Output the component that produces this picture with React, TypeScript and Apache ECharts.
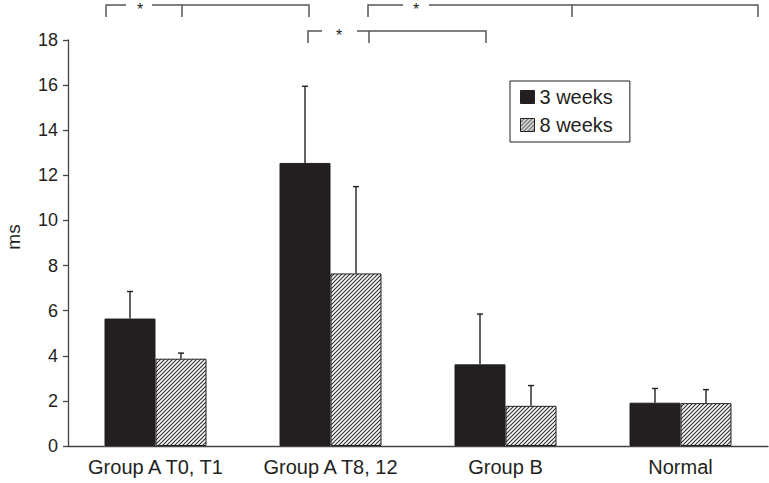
import React, { useEffect, useRef } from 'react';
import * as echarts from 'echarts';

// groups along the x axis
const groups = ['Group A T0, T1', 'Group A T8, 12', 'Group B', 'Normal'];
const seriesNames = ['3 weeks', '8 weeks'];

// mean values (ms) and upper error (SD)
const weeks3 = [5.65, 12.55, 3.62, 1.92];
const weeks3Sd = [1.2, 3.4, 2.23, 0.63];
const weeks8 = [3.87, 7.65, 1.78, 1.9];
const weeks8Sd = [0.25, 3.85, 0.9, 0.6];

const yTicks = { min: 0, max: 18, interval: 2 };

// significance brackets, pixel positions of the annotation layer
const brackets = [
    { left: 106, mid: 182, right: 309, top: 5, drop: 12, gapFrom: 126, gapTo: 152, star: 140 },
    { left: 308, mid: 369, right: 486, top: 31, drop: 12, gapFrom: 322, gapTo: 357, star: 339 },
    { left: 368, mid: 572, right: 758, top: 5, drop: 12, gapFrom: 403, gapTo: 429, star: 416 },
];

const INK = '#231f20';
const FONT = "'Liberation Sans', Arial, Helvetica, sans-serif";
const BAR_W = 51;

const makeHatch = () => {
    const c = document.createElement('canvas');
    c.width = 4;
    c.height = 4;
    const ctx = c.getContext('2d')!;
    ctx.fillStyle = '#fff';
    ctx.fillRect(0, 0, 4, 4);
    ctx.strokeStyle = '#333';
    ctx.lineWidth = 1.2;
    ctx.beginPath();
    ctx.moveTo(-1, 5);
    ctx.lineTo(5, -1);
    ctx.moveTo(-1, 1);
    ctx.lineTo(1, -1);
    ctx.moveTo(3, 5);
    ctx.lineTo(5, 3);
    ctx.stroke();
    return c;
};

const errorSeries = (name: string, means: number[], sds: number[], offset: number) => ({
    name,
    type: 'custom',
    z: 5,
    data: means.map((m, i) => [i, m, m + sds[i]]),
    renderItem: (params: any, api: any) => {
        const low = api.coord([api.value(0), api.value(1)]);
        const high = api.coord([api.value(0), api.value(2)]);
        const x = low[0] + offset;
        const style = { stroke: INK, lineWidth: 1.4 };
        return {
            type: 'group',
            children: [
                { type: 'line', shape: { x1: x, y1: low[1], x2: x, y2: high[1] }, style },
                { type: 'line', shape: { x1: x - 3, y1: high[1], x2: x + 3, y2: high[1] }, style },
            ],
        };
    },
});

const App: React.FC = () => {
    const chartRef = useRef<HTMLDivElement>(null);

    useEffect(() => {
        document.body.style.margin = '0';
        if (!chartRef.current) return;
        const chart = echarts.init(chartRef.current, null, { renderer: 'svg' });
        const hatch = { image: makeHatch(), repeat: 'repeat' as const };

        const graphics: any[] = [
            {
                type: 'text',
                x: 13,
                y: 237,
                rotation: Math.PI / 2,
                style: { text: 'ms', font: `19px ${FONT}`, fill: INK, textAlign: 'center', textVerticalAlign: 'middle' },
            },
        ];
        brackets.forEach(b => {
            const lineStyle = { stroke: '#555', lineWidth: 1.5, fill: 'none' };
            graphics.push(
                { type: 'polyline', shape: { points: [[b.left, b.top + b.drop], [b.left, b.top], [b.gapFrom, b.top]] }, style: lineStyle },
                { type: 'polyline', shape: { points: [[b.gapTo, b.top], [b.right, b.top], [b.right, b.top + b.drop]] }, style: lineStyle },
                { type: 'line', shape: { x1: b.mid, y1: b.top, x2: b.mid, y2: b.top + b.drop }, style: lineStyle },
                {
                    type: 'text',
                    x: b.star,
                    y: b.top + 4,
                    style: { text: '*', font: `16px ${FONT}`, fill: INK, textAlign: 'center', textVerticalAlign: 'middle' },
                },
            );
        });

        chart.setOption({
            animation: false,
            grid: { left: 68, right: 1, top: 40, bottom: 37 },
            legend: {
                orient: 'vertical',
                left: 510,
                top: 81,
                padding: [6, 17, 7, 10],
                itemGap: 8,
                itemWidth: 14,
                itemHeight: 13,
                borderColor: INK,
                borderWidth: 1,
                textStyle: { fontFamily: FONT, fontSize: 20, color: INK },
                data: [
                    { name: seriesNames[0], icon: 'rect', itemStyle: { color: INK, borderColor: INK, borderWidth: 1 } },
                    { name: seriesNames[1], icon: 'rect', itemStyle: { color: hatch, borderColor: INK, borderWidth: 1 } },
                ],
            },
            xAxis: {
                type: 'category',
                data: groups,
                axisLine: { lineStyle: { color: '#444', width: 1.3 } },
                axisTick: { length: 5, lineStyle: { color: '#444', width: 1.3 } },
                axisLabel: { interval: 0, margin: 11, fontFamily: FONT, fontSize: 20, color: INK },
            },
            yAxis: {
                type: 'value',
                min: yTicks.min,
                max: yTicks.max,
                interval: yTicks.interval,
                splitLine: { show: false },
                axisLine: { show: true, lineStyle: { color: '#444', width: 1.3 } },
                axisTick: { show: true, length: 5, lineStyle: { color: '#444', width: 1.3 } },
                axisLabel: { margin: 10, fontFamily: FONT, fontSize: 18, color: INK },
            },
            series: [
                {
                    name: seriesNames[0],
                    type: 'bar',
                    barWidth: BAR_W,
                    barGap: '0%',
                    data: weeks3,
                    itemStyle: { color: INK, borderColor: INK, borderWidth: 1 },
                },
                {
                    name: seriesNames[1],
                    type: 'bar',
                    barWidth: BAR_W,
                    barGap: '0%',
                    data: weeks8,
                    itemStyle: { color: hatch, borderColor: INK, borderWidth: 1 },
                },
                errorSeries('err3', weeks3, weeks3Sd, -BAR_W / 2),
                errorSeries('err8', weeks8, weeks8Sd, BAR_W / 2),
            ],
            graphic: graphics,
        });

        return () => {
            chart.dispose();
        };
    }, []);

    return <div ref={chartRef} style={{ width: 769, height: 483 }} />;
};

export default App;
